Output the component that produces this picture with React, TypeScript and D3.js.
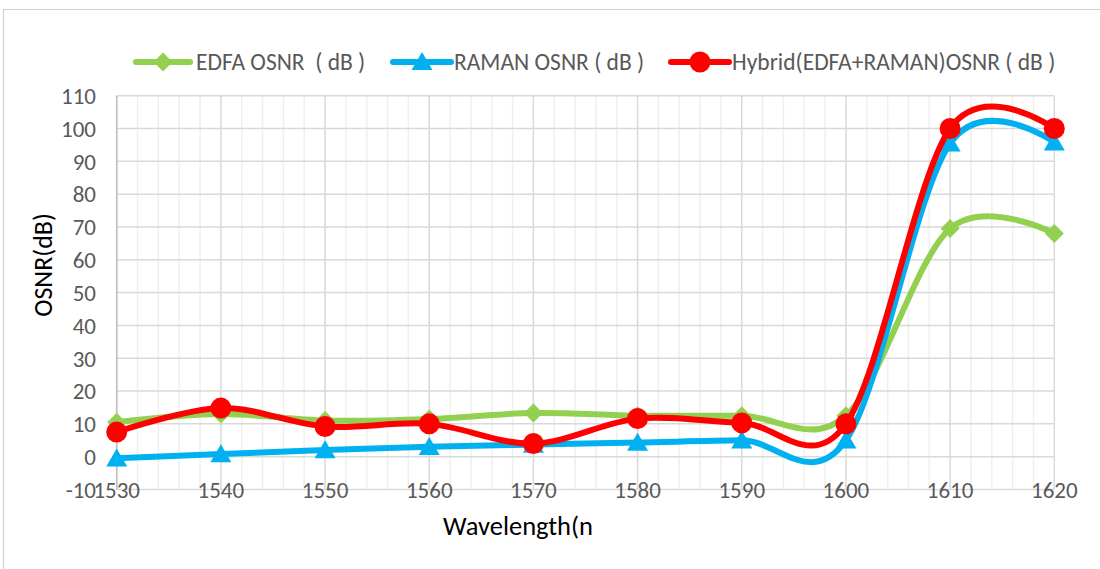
import React from "react";
import * as d3 from "d3";

// Wavelength grid (nm) and OSNR per amplifier scheme (dB)
const wavelengths = [1530, 1540, 1550, 1560, 1570, 1580, 1590, 1600, 1610, 1620];
const edfaOsnr = [10.5, 13, 11, 11.5, 13.3, 12.5, 12.5, 12.5, 69.5, 68];
const ramanOsnr = [-0.5, 0.8, 2, 3, 3.7, 4.3, 5, 5, 95.5, 95.8];
const hybridOsnr = [7.5, 14.8, 9.2, 10, 4, 11.6, 10.3, 10, 100, 100];
const yTicks = [-10, 0, 10, 20, 30, 40, 50, 60, 70, 80, 90, 100, 110];
const xTicks = [1530, 1540, 1550, 1560, 1570, 1580, 1590, 1600, 1610, 1620];
const seriesNames = ["EDFA OSNR  ( dB )", "RAMAN OSNR ( dB )", "Hybrid(EDFA+RAMAN)OSNR ( dB )"];

const W = 1100;
const H = 569;
const FONT = "Carlito, Calibri, Lato, sans-serif";

const GREEN = "#92d050";
const BLUE = "#00b0f0";
const RED = "#ff0000";

type Marker = "diamond" | "triangle" | "circle";

function markerPath(kind: Marker, cx: number, cy: number): string {
  if (kind === "diamond") {
    const r = 9.5;
    return `M${cx},${cy - r}L${cx + r},${cy}L${cx},${cy + r}L${cx - r},${cy}Z`;
  }
  if (kind === "triangle") {
    const hw = 10.5;
    const h = 18;
    return `M${cx},${cy - h * 0.55}L${cx + hw},${cy + h * 0.45}L${cx - hw},${cy + h * 0.45}Z`;
  }
  const r = 10.5;
  return `M${cx - r},${cy}a${r},${r} 0 1,0 ${2 * r},0a${r},${r} 0 1,0 ${-2 * r},0Z`;
}

export default function App() {
  const x = d3.scaleLinear().domain([1530, 1620]).range([116.7, 1054.3]);
  const y = d3.scaleLinear().domain([-10, 110]).range([489.5, 95.7]);

  const line = d3
    .line<[number, number]>()
    .x((d) => x(d[0]))
    .y((d) => y(d[1]))
    .curve(d3.curveCatmullRom.alpha(0));

  const series: { name: string; values: number[]; color: string; marker: Marker }[] = [
    { name: seriesNames[0], values: edfaOsnr, color: GREEN, marker: "diamond" },
    { name: seriesNames[1], values: ramanOsnr, color: BLUE, marker: "triangle" },
    { name: seriesNames[2], values: hybridOsnr, color: RED, marker: "circle" },
  ];

  const minorX = d3.range(1530, 1621, 2).filter((v) => (v - 1530) % 10 !== 0);

  const legendItems = [
    { x0: 136, x1: 190, tx: 196 },
    { x0: 393, x1: 451, tx: 454 },
    { x0: 671, x1: 729, tx: 732 },
  ];
  const legendY = 62;

  return (
    <svg
      width={W}
      height={H}
      viewBox={`0 0 ${W} ${H}`}
      style={{ position: "absolute", left: 0, top: 0, background: "#fff" }}
    >
      <rect x={0} y={0} width={W} height={H} fill="#fff" />
      {/* chart frame */}
      <path d={`M3.5,${H}V9.5H${W}`} fill="none" stroke="#d0d0d0" strokeWidth={1.2} />

      {/* minor vertical grid */}
      {minorX.map((v) => (
        <line key={`mx${v}`} x1={x(v)} x2={x(v)} y1={y(110)} y2={y(-10)} stroke="#efefef" strokeWidth={1.5} />
      ))}
      {/* major vertical grid */}
      {xTicks.map((v) => (
        <line key={`vx${v}`} x1={x(v)} x2={x(v)} y1={y(110)} y2={y(-10)} stroke="#d9d9d9" strokeWidth={1.5} />
      ))}
      {/* horizontal grid */}
      {yTicks.map((v) => (
        <line key={`hy${v}`} x1={x(1530)} x2={x(1620)} y1={y(v)} y2={y(v)} stroke="#d9d9d9" strokeWidth={1.5} />
      ))}
      {/* vertical axis line */}
      <line x1={x(1530)} x2={x(1530)} y1={y(110)} y2={y(-10)} stroke="#bfbfbf" strokeWidth={1.5} />

      {/* y tick labels */}
      {yTicks.map((v) => (
        <text
          key={`yt${v}`}
          x={96}
          y={y(v)}
          dy="0.36em"
          textAnchor="end"
          fontFamily={FONT}
          fontSize={23}
          fill="#595959"
        >
          {v}
        </text>
      ))}
      {/* x tick labels */}
      {xTicks.map((v) => (
        <text
          key={`xt${v}`}
          x={x(v)}
          y={y(-10)}
          dy="0.36em"
          textAnchor="middle"
          fontFamily={FONT}
          fontSize={23}
          fill="#595959"
        >
          {v}
        </text>
      ))}

      {/* axis titles */}
      <text
        x={0}
        y={0}
        transform={`translate(52,265) rotate(-90)`}
        textAnchor="middle"
        fontFamily={FONT}
        fontSize={26}
        fill="#000"
      >
        OSNR(dB)
      </text>
      <text x={518} y={535} textAnchor="middle" fontFamily={FONT} fontSize={26.5} fill="#000">
        Wavelength(n
      </text>

      {/* series */}
      {series.map((s) => {
        const pts: [number, number][] = wavelengths.map((w, i) => [w, s.values[i]]);
        return (
          <g key={s.name}>
            <path d={line(pts) ?? ""} fill="none" stroke={s.color} strokeWidth={6} strokeLinejoin="round" strokeLinecap="round" />
            {pts.map((p) => (
              <path key={p[0]} d={markerPath(s.marker, x(p[0]), y(p[1]))} fill={s.color} />
            ))}
          </g>
        );
      })}

      {/* legend */}
      {series.map((s, i) => {
        const it = legendItems[i];
        const mid = (it.x0 + it.x1) / 2;
        return (
          <g key={`lg${i}`}>
            <line x1={it.x0} x2={it.x1} y1={legendY} y2={legendY} stroke={s.color} strokeWidth={6} strokeLinecap="round" />
            <path d={markerPath(s.marker, mid, legendY)} fill={s.color} />
            <text
              x={it.tx}
              y={legendY}
              dy="0.36em"
              fontFamily={FONT}
              fontSize={23.5}
              fill="#595959"
              style={{ whiteSpace: "pre" }}
            >
              {s.name}
            </text>
          </g>
        );
      })}
    </svg>
  );
}
